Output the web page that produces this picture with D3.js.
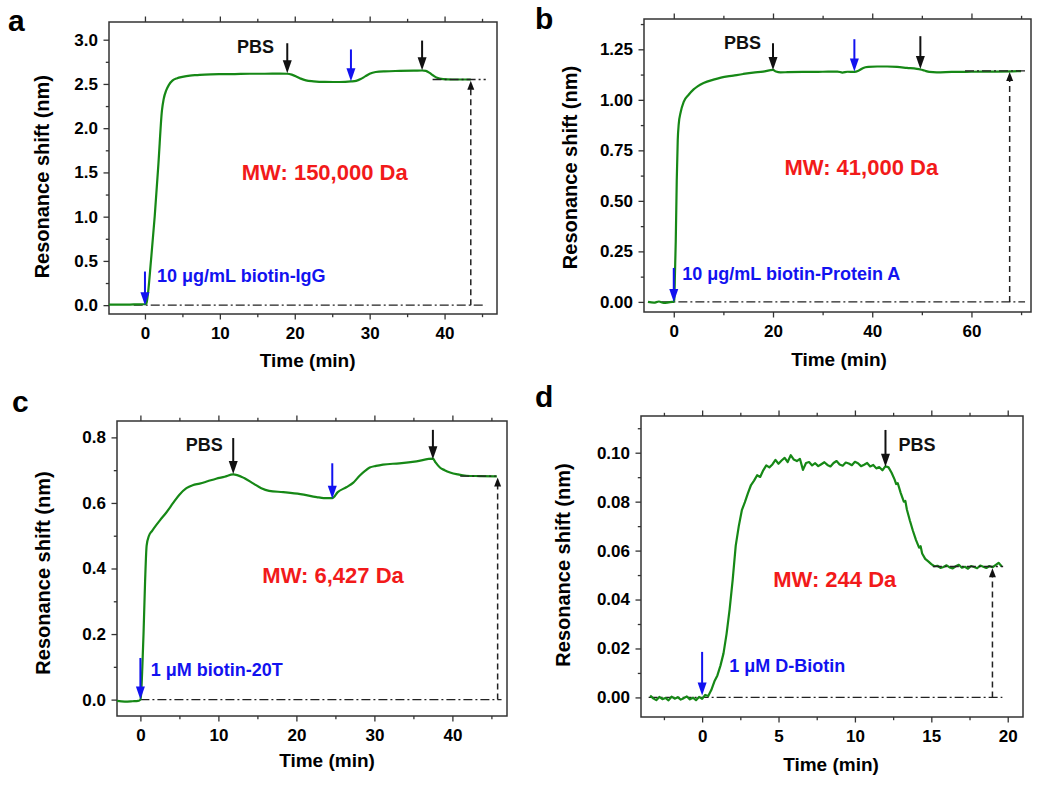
<!DOCTYPE html>
<html><head><meta charset="utf-8">
<script src="https://cdn.jsdelivr.net/npm/d3@7"></script>
<style>
body{margin:0;background:#fff}
svg{display:block}
text{font-family:"Liberation Sans",Arial,Helvetica,sans-serif;font-weight:bold}
</style>
</head><body>
<script>
// ---------------- DATA ----------------
// Panel a : 10 ug/mL biotin-IgG
const timeA  = [-4.8,-3,-1.5,-0.5,0,0.2,0.4,0.8,1.3,1.8,2.27,2.5,2.85,3.2,3.7,4.3,5,6,7,8,10,12,14,16,18,19,19.6,20.2,20.8,21.5,22.5,24,26,27.5,28.2,28.8,29.4,30,30.8,32,34,36,37,37.5,38,38.5,39,39.8,41,43.5];
const shiftA = [0.005,0.005,0.008,0.01,0.01,0.02,0.13,0.5,1.0,1.6,2.2,2.33,2.43,2.49,2.54,2.565,2.58,2.595,2.6,2.605,2.61,2.612,2.615,2.615,2.617,2.615,2.605,2.585,2.56,2.54,2.53,2.523,2.522,2.528,2.535,2.555,2.585,2.615,2.635,2.643,2.647,2.65,2.652,2.648,2.625,2.595,2.57,2.555,2.55,2.55];
const xTicksA = [0,10,20,30,40];
const yTicksA = [0,0.5,1.0,1.5,2.0,2.5,3.0];

// Panel b : 10 ug/mL biotin-Protein A
const timeB  = [-5.2,-4,-3,-2,-1,-0.3,0,0.1,0.25,0.4,0.6,0.8,1.0,1.4,2,3,4,4.8,6,8,9.5,12,14,16,18,20,20.6,21.5,23,26,30,33,34,35,36.4,37.3,38.2,39.2,41,43,45,47,49,49.7,50.5,51.5,53,56,60,65,70];
const shiftB = [0,-0.004,0.002,-0.005,-0.002,0,0,0.01,0.15,0.3,0.6,0.8,0.88,0.94,0.99,1.025,1.052,1.067,1.083,1.1,1.11,1.12,1.128,1.135,1.14,1.148,1.14,1.136,1.137,1.138,1.139,1.14,1.135,1.139,1.138,1.145,1.158,1.163,1.165,1.165,1.163,1.158,1.153,1.15,1.145,1.138,1.136,1.138,1.139,1.14,1.142];
const xTicksB = [0,20,40,60];
const yTicksB = [0,0.25,0.5,0.75,1.0,1.25];

// Panel c : 1 uM biotin-20T
const timeC  = [-3,-2,-1,-0.3,0,0.1,0.25,0.4,0.6,0.8,1.1,1.5,2.5,3.3,4.2,5,5.9,6.7,7.6,8.6,9.7,10.8,11.9,12.4,13.3,14.5,15.5,16.5,18.3,20.5,22.6,23.5,24.6,25.3,26.4,27.3,28.1,28.8,29.4,30.2,31.1,33.2,35.4,37.5,37.8,38.4,39,39.7,40.7,41.8,43.5,45.7];
const shiftC = [-0.004,-0.006,-0.005,-0.004,0,0.02,0.1,0.2,0.36,0.47,0.5,0.515,0.547,0.57,0.6,0.625,0.645,0.654,0.659,0.666,0.674,0.68,0.687,0.685,0.676,0.659,0.645,0.637,0.633,0.627,0.618,0.615,0.615,0.633,0.648,0.662,0.683,0.698,0.708,0.713,0.717,0.721,0.727,0.735,0.725,0.708,0.7,0.693,0.687,0.683,0.682,0.681];
const xTicksC = [0,10,20,30,40];
const yTicksC = [0,0.2,0.4,0.6,0.8];

// Panel d : 1 uM D-Biotin  ([time, shift] pairs)
const pointsD = [
[-3.4,0.0008],[-3.2,-0.0004],[-3.0,-0.0011],[-2.8,0.0002],[-2.6,-0.0007],[-2.4,-0.0002],[-2.2,-0.0012],[-2.0,0.0003],[-1.8,-0.0005],[-1.6,0.0001],
[-1.4,-0.0009],[-1.2,-0.0003],[-1.0,0.0004],[-0.8,-0.0008],[-0.6,-0.0001],[-0.4,-0.0011],[-0.2,0.0002],[0.0,-0.0006],[0.2,0.0010],[0.4,0.0006],
[0.6,0.0030],[0.8,0.0065],[1.0,0.0090],[1.2,0.0130],[1.4,0.0180],[1.6,0.0260],[1.8,0.0360],[2.0,0.0480],[2.2,0.0620],[2.4,0.0700],
[2.6,0.0765],[2.8,0.0798],[3.0,0.0835],[3.2,0.0868],[3.4,0.0886],[3.6,0.0908],[3.8,0.0901],[4.0,0.0928],[4.2,0.0948],[4.4,0.0940],
[4.6,0.0952],[4.8,0.0971],[5.0,0.0955],[5.2,0.0968],[5.4,0.0979],[5.6,0.0962],[5.8,0.0990],[6.0,0.0972],[6.2,0.0966],[6.4,0.0975],
[6.6,0.0930],[6.8,0.0958],[7.0,0.0962],[7.2,0.0948],[7.4,0.0957],[7.6,0.0945],[7.8,0.0953],[8.0,0.0961],[8.2,0.0950],[8.4,0.0944],
[8.6,0.0958],[8.8,0.0966],[9.0,0.0952],[9.2,0.0947],[9.4,0.0960],[9.6,0.0956],[9.8,0.0949],[10.0,0.0963],[10.2,0.0957],[10.4,0.0945],
[10.6,0.0951],[10.8,0.0958],[11.0,0.0944],[11.2,0.0950],[11.4,0.0936],[11.6,0.0941],[11.8,0.0928],[12.0,0.0945],[12.2,0.0940],[12.4,0.0918],
[12.6,0.0890],[12.7,0.0872],[12.8,0.0876],[13.0,0.0835],[13.2,0.0800],[13.3,0.0803],[13.4,0.0768],[13.6,0.0722],[13.8,0.0680],[14.0,0.0643],
[14.2,0.0612],[14.3,0.0618],[14.4,0.0588],[14.6,0.0566],[14.8,0.0556],[15.0,0.0545],[15.2,0.0536],[15.4,0.0538],[15.6,0.0529],[15.8,0.0533],
[16.0,0.0540],[16.2,0.0531],[16.4,0.0527],[16.6,0.0536],[16.8,0.0542],[17.0,0.0530],[17.2,0.0534],[17.4,0.0526],[17.6,0.0537],[17.8,0.0533],
[18.0,0.0528],[18.2,0.0539],[18.4,0.0534],[18.6,0.0529],[18.8,0.0537],[19.0,0.0532],[19.2,0.0541],[19.4,0.0550],[19.6,0.0536]];
const xTicksD = [0,5,10,15,20];
const yTicksD = [0,0.02,0.04,0.06,0.08,0.10];

// Annotations (data coordinates)
const arrowsA = [[0,0.38,0.0,"blue"],[19,2.96,2.62,"black"],[27.5,2.89,2.53,"blue"],[37,2.99,2.655,"black"]];
const arrowsB = [[0,0.168,0.0,"blue"],[20,1.28,1.148,"black"],[36.4,1.30,1.14,"blue"],[49.7,1.315,1.152,"black"]];
const arrowsC = [[0,0.127,0.0,"blue"],[11.9,0.798,0.688,"black"],[24.6,0.721,0.613,"blue"],[37.5,0.823,0.733,"black"]];
const arrowsD = [[0,0.0186,0.0008,"blue"],[12,0.1093,0.0943,"black"]];

// ---------------- DRAW ----------------
const GREEN="#168816", BLUE="#1212f0", RED="#f21a1a", AX="#333";
const svg = d3.select("body").append("svg").attr("width",1050).attr("height",790);

const panels = [
 {letter:"a", lpos:[8,31], data:timeA.map((t,i)=>[t,shiftA[i]]), curve:d3.curveMonotoneX,
  xDom:[-4.8,47], yDom:[-0.1,3.2], box:[109,22,497,314], xTicks:xTicksA, yTicks:yTicksA, xMinorStep:5, yMinorStep:0.25, yFmt:".1f",
  arrows:arrowsA, label:["10 μg/mL biotin-IgG",1.6,0.26], pbs:[12.3,2.85], mw:["MW: 150,000 Da",24,1.42],
  base:[-1.5,45.5], top:[38.4,45.5,2.55], vline:[43.5,2.535],
  yTitle:[49,176.7], xTitle:[307.7,367]},
 {letter:"b", lpos:[535,29], data:timeB.map((t,i)=>[t,shiftB[i]]), curve:d3.curveMonotoneX,
  xDom:[-6,72], yDom:[-0.05,1.4], box:[644,19,1031,312], xTicks:xTicksB, yTicks:yTicksB, xMinorStep:10, yMinorStep:0.125, yFmt:".2f",
  arrows:arrowsB, label:["10 μg/mL biotin-Protein A",1.7,0.11], pbs:[10.1,1.25], mw:["MW: 41,000 Da",37.8,0.63],
  base:[-2.5,70.8], top:[58.7,71,1.143], vline:[67.7,1.138],
  yTitle:[577,167.5], xTitle:[839,366]},
 {letter:"c", lpos:[12,412], data:timeC.map((t,i)=>[t,shiftC[i]]), curve:d3.curveMonotoneX,
  xDom:[-3,47], yDom:[-0.05,0.85], box:[117,421,507,716], xTicks:xTicksC, yTicks:yTicksC, xMinorStep:5, yMinorStep:0.1, yFmt:".1f",
  arrows:arrowsC, label:["1 μM biotin-20T",1.33,0.073], pbs:[5.8,0.758], mw:["MW: 6,427 Da",24.7,0.355],
  base:[0,46.3], top:[41,45.6,0.682], vline:[45.8,0.678],
  yTitle:[50,573], xTitle:[327,767]},
 {letter:"d", lpos:[535,407], data:pointsD, curve:d3.curveLinear,
  xDom:[-4,21], yDom:[-0.008,0.115], box:[641,416,1023,717], xTicks:xTicksD, yTicks:yTicksD, xMinorStep:2.5, yMinorStep:0.01, yFmt:".2f",
  arrows:arrowsD, label:["1 μM D-Biotin",1.77,0.0105], pbs:[12.85,0.1008], mw:["MW: 244 Da",8.68,0.0452],
  base:[-3.5,19.65], top:[15.1,19.7,0.0535], vline:[19.0,0.0528],
  yTitle:[570,565], xTitle:[831,771]}
];

function minorVals(dom, step, major){
  const out=[]; const s=Math.ceil(dom[0]/step-1e-9);
  for(let k=s; k*step<=dom[1]+1e-9; k++){
    const v=+(k*step).toFixed(6);
    if(!major.some(m=>Math.abs(m-v)<1e-9)) out.push(v);
  }
  return out;
}

function arrow(g, x, y1, y2, color, hl, hw, sw){
  g.append("line").attr("x1",x).attr("x2",x).attr("y1",y1).attr("y2",y2 + (y2>y1?-hl+1:hl-1))
   .attr("stroke",color).attr("stroke-width",sw);
  const d = y2>y1 ? `M${x},${y2}L${x-hw/2},${y2-hl}L${x+hw/2},${y2-hl}Z`
                  : `M${x},${y2}L${x-hw/2},${y2+hl}L${x+hw/2},${y2+hl}Z`;
  g.append("path").attr("d",d).attr("fill",color);
}

panels.forEach(p=>{
  const [L,T,R,B]=p.box;
  const x=d3.scaleLinear().domain(p.xDom).range([L,R]);
  const y=d3.scaleLinear().domain(p.yDom).range([B,T]);
  const g=svg.append("g");
  const fmt=d3.format(p.yFmt);

  const style=sel=>{
    sel.select(".domain").remove();
    sel.selectAll(".tick line").attr("stroke",AX).attr("stroke-width",1.3);
    sel.selectAll(".tick text").attr("fill","#000").style("font-size","17px");
  };
  g.append("g").attr("transform",`translate(0,${B})`)
   .call(d3.axisBottom(x).tickValues(p.xTicks).tickSize(5.5).tickPadding(7).tickFormat(d3.format("d"))).call(style);
  g.append("g").attr("transform",`translate(${L},0)`)
   .call(d3.axisLeft(y).tickValues(p.yTicks).tickSize(5.5).tickPadding(5.5).tickFormat(fmt)).call(style);
  g.append("g").attr("transform",`translate(0,${T})`)
   .call(d3.axisTop(x).tickValues(p.xTicks).tickSize(5.5).tickFormat("")).call(style);
  const xm=minorVals(p.xDom,p.xMinorStep,p.xTicks), ym=minorVals(p.yDom,p.yMinorStep,p.yTicks);
  g.append("g").attr("transform",`translate(0,${B})`).call(d3.axisBottom(x).tickValues(xm).tickSize(3.2).tickFormat("")).call(style);
  g.append("g").attr("transform",`translate(0,${T})`).call(d3.axisTop(x).tickValues(xm).tickSize(3.2).tickFormat("")).call(style);
  g.append("g").attr("transform",`translate(${L},0)`).call(d3.axisLeft(y).tickValues(ym).tickSize(3.2).tickFormat("")).call(style);

  g.append("rect").attr("x",L).attr("y",T).attr("width",R-L).attr("height",B-T)
   .attr("fill","none").attr("stroke",AX).attr("stroke-width",1.5);

  g.append("line").attr("x1",x(p.base[0])).attr("x2",x(p.base[1])).attr("y1",y(0)).attr("y2",y(0))
   .attr("stroke","#222").attr("stroke-width",1.2).attr("stroke-dasharray","9,3,2,3");

  g.append("path").datum(p.data)
   .attr("d",d3.line().x(d=>x(d[0])).y(d=>y(d[1])).curve(p.curve))
   .attr("fill","none").attr("stroke",GREEN).attr("stroke-width",2.2).attr("stroke-linejoin","round");

  g.append("line").attr("x1",x(p.top[0])).attr("x2",x(p.top[1])).attr("y1",y(p.top[2])).attr("y2",y(p.top[2]))
   .attr("stroke","#222").attr("stroke-width",1.3).attr("stroke-dasharray","9,3,2,3");

  const vx=x(p.vline[0]);
  g.append("line").attr("x1",vx).attr("x2",vx).attr("y1",y(0)).attr("y2",y(p.vline[1])+8)
   .attr("stroke","#222").attr("stroke-width",1.5).attr("stroke-dasharray","6,4");
  g.append("path").attr("d",`M${vx},${y(p.vline[1])}L${vx-3.5},${y(p.vline[1])+9}L${vx+3.5},${y(p.vline[1])+9}Z`).attr("fill","#111");

  p.arrows.forEach(a=>{
    const c = a[3]==="blue"?BLUE:"#111";
    arrow(g, x(a[0]), y(a[1]), y(a[2]), c, 13, 9, 2);
  });

  g.append("text").attr("x",x(p.label[1])).attr("y",y(p.label[2])).attr("fill",BLUE).style("font-size","18px").text(p.label[0]);
  g.append("text").attr("x",x(p.pbs[0])).attr("y",y(p.pbs[1])).attr("fill","#111").style("font-size","18px").text("PBS");
  g.append("text").attr("x",x(p.mw[1])).attr("y",y(p.mw[2])).attr("text-anchor","middle").attr("fill",RED).style("font-size","22px").text(p.mw[0]);

  g.append("text").attr("transform",`translate(${p.yTitle[0]},${p.yTitle[1]}) rotate(-90)`).attr("text-anchor","middle")
   .attr("fill","#000").style("font-size","20px").text("Resonance shift (nm)");
  g.append("text").attr("x",p.xTitle[0]).attr("y",p.xTitle[1]).attr("text-anchor","middle")
   .attr("fill","#000").style("font-size","19px").text("Time (min)");

  svg.append("text").attr("x",p.lpos[0]).attr("y",p.lpos[1]).attr("fill","#000").style("font-size","30px").text(p.letter);
});
</script>
</body></html>
